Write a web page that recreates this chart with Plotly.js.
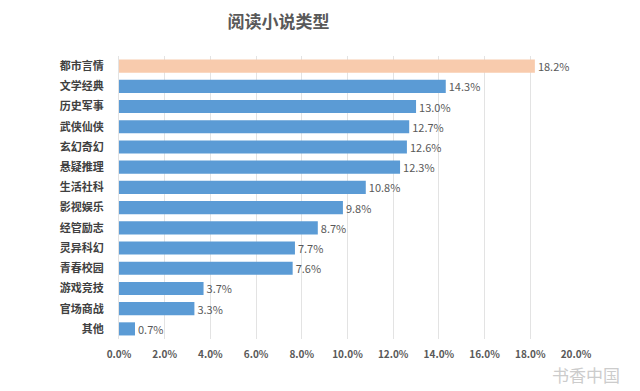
<!DOCTYPE html>
<html><head><meta charset="utf-8">
<script src="https://cdn.plot.ly/plotly-3.0.1.min.js"></script>
<style>html,body{margin:0;padding:0;background:#fff}#chart{width:640px;height:391px}</style>
</head><body><div id="chart"></div>
<script>
const categories = ["都市言情","文学经典","历史军事","武侠仙侠","玄幻奇幻","悬疑推理","生活社科","影视娱乐","经管励志","灵异科幻","青春校园","游戏竞技","官场商战","其他"];
const values = [18.2,14.3,13.0,12.7,12.6,12.3,10.8,9.8,8.7,7.7,7.6,3.7,3.3,0.7];
const barColors = ["#f8cbad","#5b9bd5","#5b9bd5","#5b9bd5","#5b9bd5","#5b9bd5","#5b9bd5","#5b9bd5","#5b9bd5","#5b9bd5","#5b9bd5","#5b9bd5","#5b9bd5","#5b9bd5"];
const tickValues = [0,2,4,6,8,10,12,14,16,18,20];
const tickLabels = ["0.0%","2.0%","4.0%","6.0%","8.0%","10.0%","12.0%","14.0%","16.0%","18.0%","20.0%"];
const F = '"Noto Sans CJK SC", "Noto Sans", sans-serif';
Plotly.newPlot('chart', [{
  type:'bar', orientation:'h', x: values, y: categories,
  marker:{color: barColors}, width:0.65,
  text: values.map(v=>v.toFixed(1)+'%'), textposition:'outside', cliponaxis:false, constraintext:'none',
  textfont:{family:F, size:11, color:'#595959'}, hoverinfo:'none'
}], {
  width:640, height:391, margin:{l:119, r:64, t:56, b:52},
  paper_bgcolor:'#fff', plot_bgcolor:'#fff', showlegend:false,
  title:{text:'<b>阅读小说类型</b>', x:0.435, xanchor:'center', y:0.96, font:{family:F, size:17, color:'#595959'}},
  xaxis:{range:[0,20], tickvals: tickValues, ticktext: tickLabels, showgrid:true, gridcolor:'#e3e3e3', gridwidth:1,
    zeroline:false, showline:false, ticks:'', ticklabelstandoff:8, tickfont:{family:F, size:10, color:'#595959', weight:'bold'}, fixedrange:true},
  yaxis:{autorange:'reversed', showgrid:false, zeroline:false, showline:true, linecolor:'#e3e3e3', ticks:'',
    ticklabelstandoff:12, tickfont:{family:F, size:11, color:'#404040', weight:'bold'}, fixedrange:true},
  annotations:[{text:'书香中国', xref:'paper', yref:'paper', x:1.1, y:-0.075, xanchor:'right', yanchor:'top',
    showarrow:false, font:{family:F, size:17, color:'#cccccc'}}]
}, {staticPlot:true});
</script></body></html>
